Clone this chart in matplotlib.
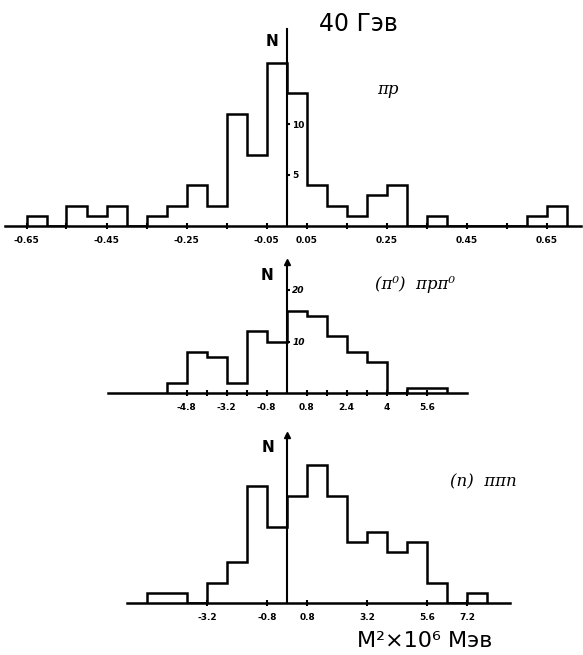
import numpy as np
import matplotlib
matplotlib.use("Agg")
import matplotlib.pyplot as plt

# pi p : bins of 0.05 starting at -0.65
pp_start = -0.65
pp_width = 0.05
pp_counts = [1, 0, 2, 1, 2, 0, 1, 2, 4, 2, 11, 7, 16, 13,
             4, 2, 1, 3, 4, 0, 1, 0, 0, 0, 0, 1, 2]
pp_ticks = [-0.65, -0.55, -0.45, -0.35, -0.25, -0.15, -0.05,
            0.05, 0.15, 0.25, 0.35, 0.45, 0.55, 0.65]
pp_labels = ["-0.65", "", "-0.45", "", "-0.25", "", "-0.05",
             "0.05", "", "0.25", "", "0.45", "", "0.65"]

# (pi0) p pi p pi0 : bins of 0.8 starting at -4.8
ppp0_start = -4.8
ppp0_width = 0.8
ppp0_counts = [2, 8, 7, 2, 12, 10, 16, 15, 11, 8, 6, 0, 1, 1]
# hand-written labels as they stand under the ticks
ppp0_ticks = [-4.0, -3.2, -2.4, -1.6, -0.8, 0.8, 1.6, 2.4, 3.2, 4.0, 4.8, 5.6]
ppp0_labels = ["-4.8", "", "-3.2", "", "-0.8", "0.8", "", "2.4", "", "4", "", "5.6"]

# (n) pi pi n : bins of 0.8 starting at -5.6
ppn_start = -5.6
ppn_width = 0.8
ppn_counts = [2, 2, 0, 4, 8, 23, 15, 21, 27, 21, 12, 14, 10, 12, 4, 0, 2]
ppn_ticks = [-3.2, -0.8, 0.8, 3.2, 5.6, 7.2]
ppn_labels = ["-3.2", "-0.8", "0.8", "3.2", "5.6", "7.2"]

W, H = 583, 655
fig = plt.figure(figsize=(W / 100, H / 100), dpi=100)
fig.patch.set_facecolor("white")

LW = 1.8


def px_axes(x0, x1, ytop, ybot):
    return fig.add_axes([x0 / W, 1 - ybot / H, (x1 - x0) / W, (ybot - ytop) / H])


def setup(ax, x0, x1, ytop, ybot, zero_px, px_per_unit, y_px_per_unit):
    ax.set_xlim((x0 - zero_px) / px_per_unit, (x1 - zero_px) / px_per_unit)
    ax.set_ylim(0, (ybot - ytop) / y_px_per_unit)
    ax.patch.set_alpha(0)
    ax.spines["top"].set_visible(False)
    ax.spines["left"].set_visible(False)
    ax.spines["right"].set_position(("data", 0))
    ax.spines["bottom"].set_linewidth(LW)
    ax.spines["right"].set_linewidth(1.5)
    ax.yaxis.tick_right()
    ax.tick_params(axis="x", direction="inout", length=4, width=1.5, pad=5,
                   labelsize=6.5)
    ax.tick_params(axis="y", direction="out", length=2, width=1.5, pad=2,
                   labelsize=6.5)
    for lab in ax.get_xticklabels() + ax.get_yticklabels():
        lab.set_fontweight("bold")


def hist(ax, start, width, counts):
    edges = start + width * np.arange(len(counts) + 1)
    ax.stairs(counts, edges, baseline=0, color="black", lw=LW)


# panel 1
ax1 = px_axes(5, 581, 29, 226)
hist(ax1, pp_start, pp_width, pp_counts)
ax1.set_xticks(pp_ticks, pp_labels)
ax1.set_yticks([5, 10], ["5", "10"])
setup(ax1, 5, 581, 29, 226, 286.5, 400, 10.2)

# panel 2
ax2 = px_axes(108, 467, 262, 393)
hist(ax2, ppp0_start, ppp0_width, ppp0_counts)
ax2.set_xticks(ppp0_ticks, ppp0_labels)
ax2.set_yticks([10, 20], ["10", "20"])
setup(ax2, 108, 467, 262, 393, 286.7, 25, 5.15)
for lab in ax2.get_yticklabels():
    lab.set_fontstyle("italic")
ax2.plot(0, ax2.get_ylim()[1], marker="^", ms=4, color="black", clip_on=False)

# panel 3
ax3 = px_axes(127, 510, 435, 603)
hist(ax3, ppn_start, ppn_width, ppn_counts)
ax3.set_xticks(ppn_ticks, ppn_labels)
ax3.set_yticks([])
setup(ax3, 127, 510, 435, 603, 287.3, 25, 5.1)
ax3.plot(0, ax3.get_ylim()[1], marker="^", ms=4, color="black", clip_on=False)


def ftext(x, y, s, **kw):
    fig.text(x / W, 1 - y / H, s, ha="center", va="center", **kw)


ftext(358, 24, "40 Гэв", fontsize=17)
ftext(272, 41, "N", fontsize=11, fontweight="bold")
ftext(388, 89, "πp", fontsize=12, fontstyle="italic", family="DejaVu Serif")
ftext(267, 276, "N", fontsize=11, fontweight="bold")
ftext(415, 285, "(π⁰)  πpπ⁰", fontsize=12, fontstyle="italic", family="DejaVu Serif")
ftext(268, 447, "N", fontsize=11, fontweight="bold")
ftext(483, 482, "(n)  ππn", fontsize=12, fontstyle="italic", family="DejaVu Serif")
ftext(425, 641, "M²×10⁶ Мэв", fontsize=16)

fig.savefig("out.png", dpi=100)
